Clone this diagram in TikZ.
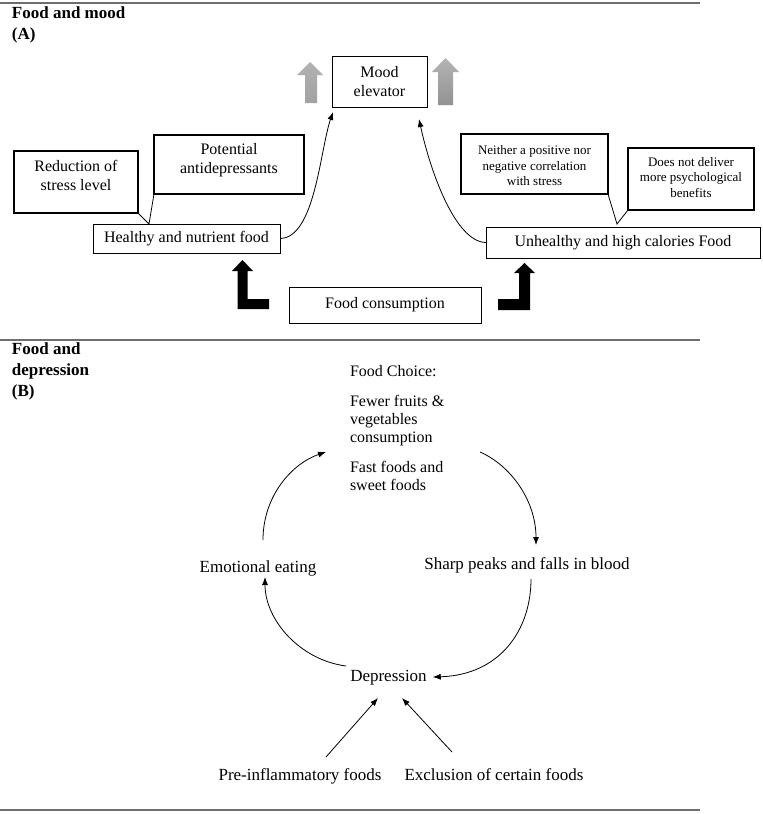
\documentclass[tikz,border=0pt]{standalone}
\usepackage{fontspec}
\setmainfont{Liberation Serif}
\usetikzlibrary{arrows.meta,calc}
\definecolor{sepgray}{HTML}{6E6E6E}
\definecolor{gArrTop}{HTML}{B2B2B2}
\definecolor{gArrBot}{HTML}{A2A2A2}
\definecolor{gArrTopR}{HTML}{B4B4B4}
\definecolor{gArrBotR}{HTML}{929292}
\begin{document}
\begin{tikzpicture}[x=1pt,y=-1pt,
  every node/.style={inner sep=0pt,outer sep=0pt},
  sepline/.style={draw=sepgray,line width=1.5pt},
  titletxt/.style={align=left,font=\fontsize{17}{21}\selectfont\bfseries},
  thinbox/.style={draw,line width=1pt,align=center,font=\fontsize{16}{19}\selectfont},
  cbox/.style={draw,line width=1.8pt},
  txtA/.style={align=center,font=\fontsize{16}{19}\selectfont},
  txtS/.style={align=center,font=\fontsize{13}{15.5}\selectfont},
  txtB/.style={font=\fontsize{17}{20}\selectfont},
  conn/.style={line width=0.8pt,-{Latex[length=8pt,width=6pt]}},
  leader/.style={line width=0.8pt}
]
\useasboundingbox (0,0) rectangle (763,814);

% separator lines
\draw[sepline] (0,3) -- (700,3);
\draw[sepline] (0,340) -- (700,340);
\draw[sepline] (0,810) -- (700,810);

% titles
\node[titletxt,anchor=west] (tA) at (12,24.5) {Food and mood\\(A)};
\node[titletxt,anchor=west] (tB) at (12,371.5) {Food and\\depression\\(B)};

% ---------- Part A ----------
\node[thinbox,minimum width=95pt,minimum height=51pt] (mood) at (379.5,81.5) {Mood\\elevator};
\node[thinbox,minimum width=187pt,minimum height=29pt] (hl) at (186.5,238.5) {Healthy and nutrient food};
\node[thinbox,minimum width=274pt,minimum height=31pt] (ul) at (623,242.5) {Unhealthy and high calories Food};
\node[thinbox,minimum width=192pt,minimum height=36pt] (fcons) at (385,305) {Food consumption};

\node[cbox,minimum width=124pt,minimum height=62pt] (red) at (76,182) {};
\node[txtA] (redt) at (76,175.5) {Reduction of\\stress level};
\node[cbox,minimum width=150pt,minimum height=59pt] (pot) at (229,164.5) {};
\node[txtA] (pott) at (229,160.5) {Potential\\antidepressants};
\node[cbox,minimum width=147pt,minimum height=60pt] (nei) at (534.5,164) {};
\node[txtS] (neit) at (534.5,166) {Neither a positive nor\\negative correlation\\with stress};
\node[cbox,minimum width=126pt,minimum height=62pt] (dn) at (691,179) {};
\node[txtS] (dnt) at (691,177.5) {Does not deliver\\more psychological\\benefits};

% callout leaders
\coordinate (c1) at (149,224);
\draw[leader] (red.south east) -- (c1) -- (pot.south west);
\coordinate (c2) at (617,224);
\draw[leader] (nei.south east) -- (c2) -- (dn.south west);

% curved arrows to mood elevator
\draw[conn] (hl.east) .. controls (315,238) and (320,150) .. ($(mood.south west)+(1,5)$);
\draw[conn] (ul.west) .. controls (455,242) and (430,170) .. ($(mood.south east)+(-8,12)$);

% gray block arrows
\shade[top color=gArrTop,bottom color=gArrBot]
  (310,62) -- (323,75) -- (317,75) -- (317,103) -- (305,103) -- (305,75) -- (297,75) -- cycle;
\shade[top color=gArrTopR,bottom color=gArrBotR]
  (445.5,58) -- (459,72) -- (453,72) -- (453,105) -- (438,105) -- (438,72) -- (432,72) -- cycle;

% black bent-up arrows
\fill[black] (242.5,260) -- (253,271) -- (247.5,271) -- (247.5,299) -- (269,299) -- (269,309)
  -- (237.5,309) -- (237.5,271) -- (232,271) -- cycle;
\fill[black] (524.5,263) -- (535,273) -- (530,273) -- (530,310) -- (498,310) -- (498,299)
  -- (519,299) -- (519,273) -- (514,273) -- cycle;

% ---------- Part B ----------
\node[align=left,anchor=west,font=\fontsize{16}{18}\selectfont] (fc) at (350,428)
  {Food Choice:\\[12pt]Fewer fruits \&\\vegetables\\consumption\\[12pt]Fast foods and\\sweet foods};
\node[txtB] (em) at (258,568) {Emotional eating};
\node[txtB] (sp) at (527,565) {Sharp peaks and falls in blood};
\node[txtB] (dep) at (388.5,678) {Depression};
\node[txtB] (pre) at (300,776) {Pre-inflammatory foods};
\node[txtB] (exc) at (494,775) {Exclusion of certain foods};

\draw[conn] ($(em)+(5,-28)$) .. controls ($(em)+(5,-73)$) and ($(em)+(35,-105)$) .. ($(fc.west)+(-24,24)$);
\draw[conn] ($(fc.west)+(130,24)$) .. controls (510,465) and (536,500) .. ($(sp)+(9,-20)$);
\draw[conn] ($(sp)+(4,14)$) .. controls ($(sp)+(4,65)$) and ($(sp)+(-27,110)$) .. ($(dep.east)+(6,-1)$);
\draw[conn] ($(dep)+(-42.5,-12)$) .. controls ($(dep)+(-88.5,-18)$) and ($(em)+(7,52)$) .. ($(em)+(7,9)$);
\draw[conn] ($(pre)+(26,-19)$) -- ($(dep)+(-10.5,20)$);
\draw[conn] ($(exc)+(-42,-23)$) -- ($(dep)+(13.5,20)$);
\end{tikzpicture}
\end{document}
